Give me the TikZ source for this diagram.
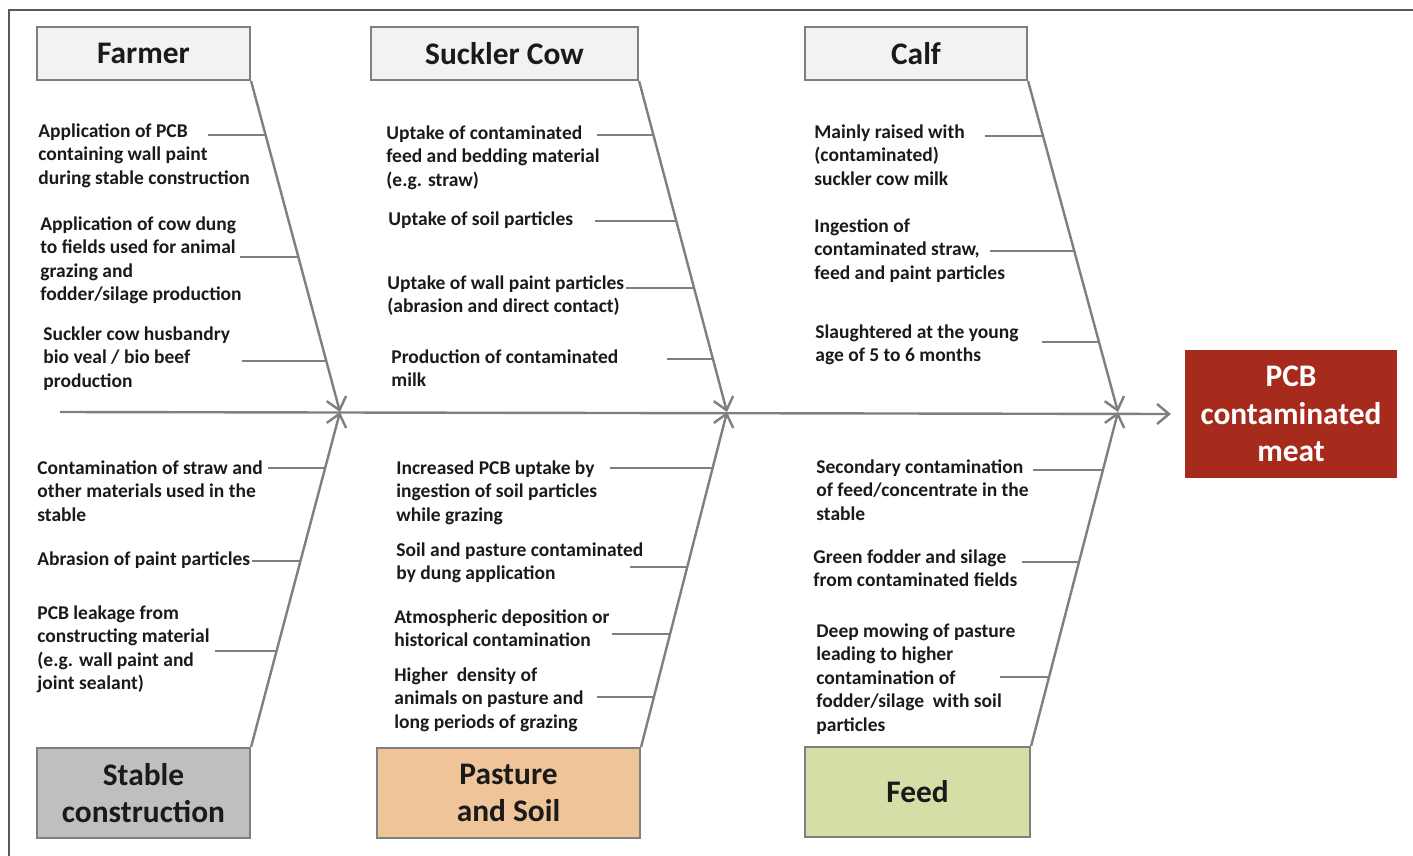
\documentclass[tikz,border=0pt]{standalone}
\usepackage{fontspec}
\setmainfont{Carlito}
\usetikzlibrary{arrows.meta,intersections}
\definecolor{bonegray}{HTML}{7F7F7F}
\definecolor{framegray}{HTML}{595959}
\definecolor{textdark}{HTML}{1A1A1A}
\definecolor{topfill}{HTML}{F2F2F2}
\definecolor{stablefill}{HTML}{BFBFBF}
\definecolor{pasturefill}{HTML}{F0C499}
\definecolor{feedfill}{HTML}{D4DFA8}
\definecolor{meatred}{HTML}{A62B1C}
\tikzset{
  bone/.style={draw=bonegray, line width=1.2pt},
  fishtip/.style={-{Straight Barb[length=6pt,width=10pt,line width=1.2pt]}},
  catbox/.style={draw=bonegray, line width=1.1pt, inner sep=0pt, align=center, text=textdark,
    font=\fontsize{15.7}{18.6}\selectfont\bfseries},
  cause/.style={anchor=north west, inner sep=0pt, align=left, text=textdark,
    font=\fontsize{9.75}{11.8}\selectfont\bfseries},
}
\begin{document}
\begin{tikzpicture}[x=0.5pt,y=-0.5pt]
  \useasboundingbox (0,0) rectangle (1413,856);
  \draw[framegray, line width=0.8pt] (9,856) -- (9,10) -- (1413,10);

  % category boxes
  \node[catbox, fill=topfill, minimum width=106.5pt, minimum height=26.5pt] (farmer) at (143.5,53.5) {Farmer};
  \node[catbox, fill=topfill, minimum width=133.5pt, minimum height=26.5pt] (cow) at (504.5,53.5) {Suckler Cow};
  \node[catbox, fill=topfill, minimum width=111pt, minimum height=26.5pt] (calf) at (916,53.5) {Calf};
  \node[catbox, fill=stablefill, minimum width=106.5pt, minimum height=45pt] (stable) at (143.5,793) {Stable\\construction};
  \node[catbox, fill=pasturefill, minimum width=131.5pt, minimum height=45pt] (pasture) at (508.5,793) {Pasture\\and Soil};
  \node[catbox, fill=feedfill, minimum width=112.5pt, minimum height=45pt] (feed) at (917.5,792) {Feed};
  \node[catbox, draw=none, fill=meatred, text=white, minimum width=106pt, minimum height=64pt] (meat) at (1291,414) {PCB\\contaminated\\meat};

  % spine and bones
  \coordinate (start) at (60,412);
  \coordinate (j1) at (340,412);
  \coordinate (j2) at (727,412);
  \coordinate (j3) at (1118,412);
  \draw[bone, fishtip] (start) -- ([xshift=-6.5pt]meat.west);
  \draw[bone, fishtip, name path=fb] (farmer.south east) -- (j1);
  \draw[bone, fishtip, name path=sb] (stable.north east) -- (j1);
  \draw[bone, fishtip, name path=cb] (cow.south east) -- (j2);
  \draw[bone, fishtip, name path=pb] (pasture.north east) -- (j2);
  \draw[bone, fishtip, name path=kb] (calf.south east) -- (j3);
  \draw[bone, fishtip, name path=eb] (feed.north east) -- (j3);

  % causes
  \node[cause] (f1) at (38,123) {Application of PCB\\containing wall paint\\during stable construction};
  \node[cause] (f2) at (40,216) {Application of cow dung\\to fields used for animal\\grazing and\\fodder/silage production};
  \node[cause] (f3) at (43,326) {Suckler cow husbandry\\bio veal / bio beef\\production};
  \node[cause] (c1) at (386,125) {Uptake of contaminated\\feed and bedding material\\(e.g. straw)};
  \node[cause] (c2) at (388,211) {Uptake of soil particles};
  \node[cause] (c3) at (387,275) {Uptake of wall paint particles\\(abrasion and direct contact)};
  \node[cause] (c4) at (391,349) {Production of contaminated\\milk};
  \node[cause] (k1) at (814,124) {Mainly raised with\\(contaminated)\\suckler cow milk};
  \node[cause] (k2) at (814,218) {Ingestion of\\contaminated straw,\\feed and paint particles};
  \node[cause] (k3) at (815,324) {Slaughtered at the young\\age of 5 to 6 months};
  \node[cause] (s1) at (37,460) {Contamination of straw and\\other materials used in the\\stable};
  \node[cause] (s2) at (37,551) {Abrasion of paint particles};
  \node[cause] (s3) at (37,605) {PCB leakage from\\constructing material\\(e.g. wall paint and\\joint sealant)};
  \node[cause] (p1) at (396,460) {Increased PCB uptake by\\ingestion of soil particles\\while grazing};
  \node[cause] (p2) at (396,542) {Soil and pasture contaminated\\by dung application};
  \node[cause] (p3) at (394,609) {Atmospheric deposition or\\historical contamination};
  \node[cause] (p4) at (394,667) {Higher~ density of\\animals on pasture and\\long periods of grazing};
  \node[cause] (e1) at (816,459) {Secondary contamination\\of feed/concentrate in the\\stable};
  \node[cause] (e2) at (813,549) {Green fodder and silage\\from contaminated fields};
  \node[cause] (e3) at (816,623) {Deep mowing of pasture\\leading to higher\\contamination of\\fodder/silage~ with soil\\particles};

  % ribs
  \foreach \i/\rx/\ry/\bn in {1/208/135/fb, 2/240/257/fb, 3/242/361/fb,
      4/597/135/cb, 5/595/221/cb, 6/626/288/cb, 7/667/359/cb,
      8/985/136/kb, 9/990/251/kb, 10/1042/342/kb,
      11/268/468/sb, 12/252/561/sb, 13/215/651/sb,
      14/610/468/pb, 15/630/567/pb, 16/612/634/pb, 17/597/697/pb,
      18/1033/470/eb, 19/1022/562/eb, 20/1000/677/eb}{
    \coordinate (r\i) at (\rx,\ry);
    \path[name path=h] (r\i) -- ++(200,0);
    \draw[bone, name intersections={of=h and \bn}] (r\i) -- (intersection-1);
  }
\end{tikzpicture}
\end{document}
